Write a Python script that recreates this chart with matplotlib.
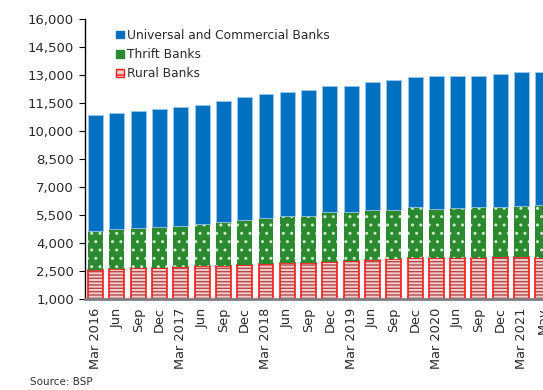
import numpy as np
import matplotlib
matplotlib.use("Agg")
import matplotlib.pyplot as plt
from matplotlib.patches import Patch
from matplotlib.ticker import FuncFormatter

quarters = ["Mar 2016", "Jun", "Sep", "Dec", "Mar 2017", "Jun", "Sep", "Dec",
            "Mar 2018", "Jun", "Sep", "Dec", "Mar 2019", "Jun", "Sep", "Dec",
            "Mar 2020", "Jun", "Sep", "Dec", "Mar 2021", "May"]

rural = [2570, 2610, 2660, 2680, 2720, 2770, 2770, 2820, 2890, 2910, 2910,
         3000, 3020, 3070, 3130, 3200, 3200, 3200, 3220, 3230, 3230, 3220]
thrift = [2090, 2120, 2140, 2190, 2190, 2250, 2340, 2410, 2450, 2550, 2550,
          2660, 2660, 2720, 2640, 2710, 2620, 2680, 2690, 2720, 2750, 2800]
ukb = [6190, 6220, 6250, 6310, 6390, 6390, 6500, 6570, 6620, 6610, 6740,
       6730, 6730, 6810, 6960, 7000, 7130, 7050, 7060, 7100, 7160, 7120]

plt.rcParams['font.family'] = ['DejaVu Sans']
plt.rcParams['hatch.linewidth'] = 1.0

blue = '#0070c0'
green = '#2b8a30'
red = '#ff1a1a'

fig = plt.figure(figsize=(5.43, 3.9), dpi=100)
# axes runs past the right edge so the last bar is cut in half
ax = fig.add_axes([0.1565, 0.2333, 0.902, 0.718])

x = np.arange(len(quarters))
w = 0.7
rural = np.array(rural)
thrift = np.array(thrift)
ukb = np.array(ukb)

# rural banks: striped fill with a red outline on top
ax.bar(x, rural, w, color='#f3cccc', edgecolor='#b44a4a', hatch='-----', linewidth=0)
ax.bar(x, rural, w, color='none', edgecolor=red, linewidth=1.2)
ax.bar(x, thrift, w, bottom=rural, color=green, edgecolor='#cfe8cf',
       hatch='..', linewidth=0)
ax.bar(x, ukb, w, bottom=rural + thrift, color=blue, edgecolor='#9cc6ea',
       linewidth=0.6)

ax.set_xlim(-0.5, 22.5)
ax.set_ylim(1000, 16000)
ax.set_yticks(np.arange(1000, 16001, 1500))
ax.yaxis.set_major_formatter(FuncFormatter(lambda v, p: f"{int(v):,}"))
ax.set_xticks(x)
ax.set_xticklabels(quarters, rotation=90)
ax.tick_params(axis='x', length=0, labelsize=9.3, colors='#2a2a2a', pad=6)
ax.tick_params(axis='y', length=4, width=0.8, labelsize=9.5, colors='black',
               labelcolor='#2a2a2a', pad=4)

for s in ['top', 'right']:
    ax.spines[s].set_visible(False)
ax.spines['left'].set_linewidth(1.0)
ax.spines['bottom'].set_color('#7f7f7f')
ax.spines['bottom'].set_linewidth(2.0)

handles = [Patch(facecolor=blue, edgecolor=blue),
           Patch(facecolor=green, edgecolor=green),
           Patch(facecolor='#f3cccc', edgecolor=red, hatch='---')]
ax.legend(handles, ["Universal and Commercial Banks", "Thrift Banks", "Rural Banks"],
          loc='upper left', bbox_to_anchor=(0.054, 0.982), frameon=False,
          fontsize=8.8, handlelength=0.6, handleheight=0.6, handletextpad=0.3,
          labelspacing=0.5, borderaxespad=0, labelcolor='#2a2a2a')

fig.text(0.055, 0.012, "Source: BSP", fontsize=7.5, color='#333333')

fig.savefig("out.png", dpi=100)
